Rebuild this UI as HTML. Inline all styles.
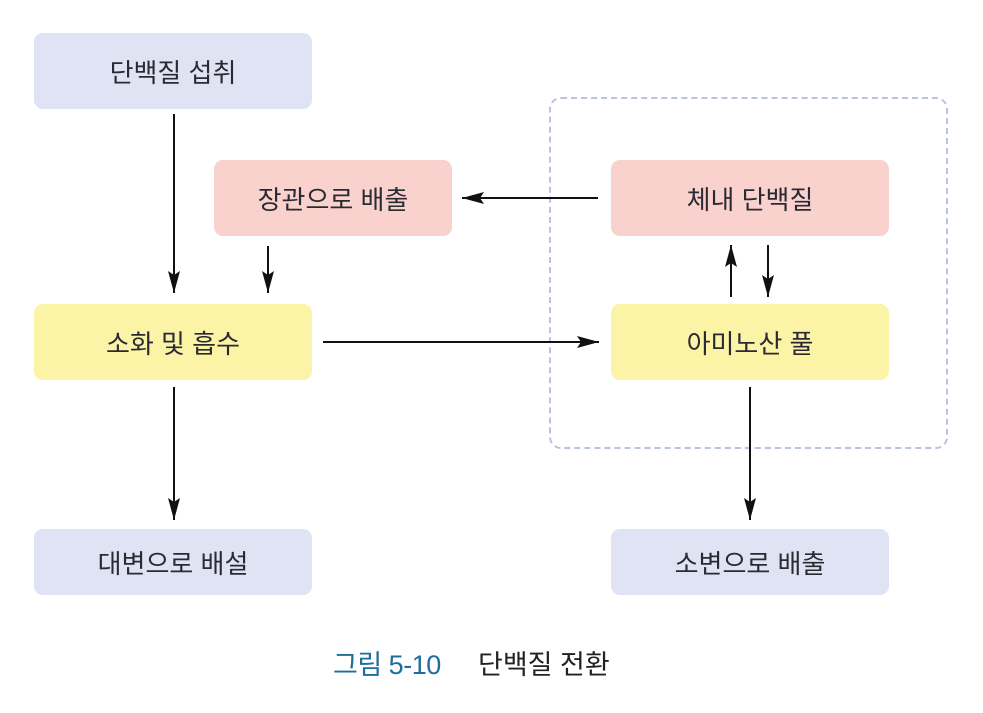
<!DOCTYPE html>
<html><head><meta charset="utf-8"><style>
body{margin:0;background:#fff;width:983px;height:713px;position:relative;overflow:hidden;font-family:"Liberation Sans","Noto Sans CJK KR",sans-serif;}
.b{position:absolute;border-radius:9px;display:flex;align-items:center;justify-content:center;font-size:26px;color:#2a2a33;}
.bl{background:#dfe3f3}.pk{background:#f9d1cd}.yl{background:#fbf3a5}
</style></head><body>
<div style="position:absolute;left:549px;top:97px;width:396px;height:350px;border:2px dashed #b8c2e6;border-radius:12px;box-sizing:border-box;width:399px;height:352px;"></div>
<div class="b bl" style="left:34px;top:33px;width:278px;height:76px">단백질 섭취</div>
<div class="b pk" style="left:214px;top:160px;width:238px;height:76px">장관으로 배출</div>
<div class="b pk" style="left:611px;top:160px;width:278px;height:76px">체내 단백질</div>
<div class="b yl" style="left:34px;top:304px;width:278px;height:76px">소화 및 흡수</div>
<div class="b yl" style="left:611px;top:304px;width:278px;height:76px">아미노산 풀</div>
<div class="b bl" style="left:34px;top:529px;width:278px;height:66px">대변으로 배설</div>
<div class="b bl" style="left:611px;top:529px;width:278px;height:66px">소변으로 배출</div>
<svg width="983" height="713" style="position:absolute;left:0;top:0">
<defs><marker id="a" markerWidth="10" markerHeight="8" refX="10" refY="4" orient="auto" markerUnits="userSpaceOnUse"><path d="M0,0L10,4L0,8L2,4z" fill="#111"/></marker>
<marker id="h" markerWidth="22" markerHeight="12" refX="22" refY="6" orient="auto" markerUnits="userSpaceOnUse"><path d="M0,0L22,6L0,12L4,6z" fill="#111"/></marker></defs>
<g stroke="#111" stroke-width="2" fill="none">
<line x1="174" y1="114" x2="174" y2="293" marker-end="url(#h)"/>
<line x1="268" y1="246" x2="268" y2="293" marker-end="url(#h)"/>
<line x1="174" y1="387" x2="174" y2="520" marker-end="url(#h)"/>
<line x1="750" y1="387" x2="750" y2="520" marker-end="url(#h)"/>
<line x1="598" y1="198" x2="462" y2="198" marker-end="url(#h)"/>
<line x1="323" y1="342" x2="599" y2="342" marker-end="url(#h)"/>
<line x1="731" y1="297" x2="731" y2="245" marker-end="url(#h)"/>
<line x1="768" y1="245" x2="768" y2="297" marker-end="url(#h)"/>
</g></svg>
<div style="position:absolute;left:333px;top:643px;font-size:27px;color:#1d6e9c;letter-spacing:-0.5px;">그림 5-10</div>
<div style="position:absolute;left:478px;top:643px;font-size:27px;color:#222;">단백질 전환</div>
</body></html>
